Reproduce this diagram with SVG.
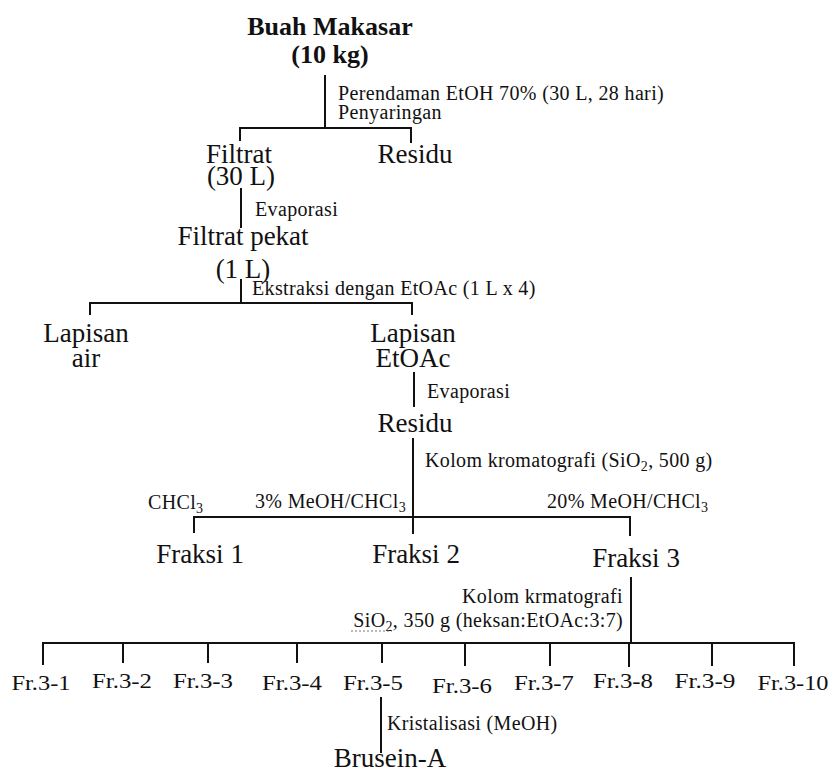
<svg xmlns="http://www.w3.org/2000/svg" width="831" height="773" viewBox="0 0 831 773">
<style>
text{font-family:"Liberation Serif","Times New Roman",serif;fill:#111;}
.title{font-size:26px;font-weight:bold;text-anchor:middle;}
.node{font-size:27px;text-anchor:middle;}
.lbl{font-size:20px;letter-spacing:0.35px;}
.fr{font-size:21px;text-anchor:middle;}
.sub{font-size:14px;}
#connectors line{stroke:#111;stroke-width:2;}
</style>
<rect width="831" height="773" fill="#fff"/>
<g id="connectors">
  <line x1="325" y1="75" x2="325" y2="129"/>
  <line x1="239" y1="128" x2="412" y2="128"/>
  <line x1="240" y1="127" x2="240" y2="141"/>
  <line x1="411" y1="127" x2="411" y2="143"/>
  <line x1="241" y1="188" x2="241" y2="228"/>
  <line x1="241" y1="279" x2="241" y2="304"/>
  <line x1="89" y1="303" x2="413" y2="303"/>
  <line x1="90" y1="302" x2="90" y2="315"/>
  <line x1="412" y1="302" x2="412" y2="315"/>
  <line x1="414" y1="372" x2="414" y2="407"/>
  <line x1="413" y1="438" x2="413" y2="534"/>
  <line x1="193" y1="517" x2="631" y2="517"/>
  <line x1="194" y1="516" x2="194" y2="533"/>
  <line x1="630" y1="516" x2="630" y2="536"/>
  <line x1="631" y1="577" x2="631" y2="644"/>
  <line x1="42" y1="643" x2="795" y2="643"/>
  <line x1="43" y1="642" x2="43" y2="665"/>
  <line x1="123" y1="642" x2="123" y2="663"/>
  <line x1="208" y1="642" x2="208" y2="663"/>
  <line x1="297" y1="642" x2="297" y2="663"/>
  <line x1="382" y1="642" x2="382" y2="663"/>
  <line x1="465" y1="642" x2="465" y2="666"/>
  <line x1="550" y1="642" x2="550" y2="666"/>
  <line x1="629" y1="642" x2="629" y2="667"/>
  <line x1="712" y1="642" x2="712" y2="666"/>
  <line x1="794" y1="642" x2="794" y2="666"/>
  <line x1="381" y1="697" x2="381" y2="753"/>
</g>
<g id="labels">
  <text class="lbl" x="338" y="100">Perendaman EtOH 70% (30 L, 28 hari)</text>
  <text class="lbl" x="338" y="119">Penyaringan</text>
  <text class="lbl" x="255" y="216">Evaporasi</text>
  <text class="lbl" x="252" y="295">Ekstraksi dengan EtOAc (1 L x 4)</text>
  <text class="lbl" x="427" y="398">Evaporasi</text>
  <text class="lbl" x="425" y="467">Kolom kromatografi (SiO<tspan class="sub" dy="4">2</tspan><tspan dy="-4">, 500 g)</tspan></text>
  <text class="lbl" x="148" y="509">CHCl<tspan class="sub" dy="4">3</tspan></text>
  <text class="lbl" x="255" y="508">3% MeOH/CHCl<tspan class="sub" dy="4">3</tspan></text>
  <text class="lbl" x="547" y="508">20% MeOH/CHCl<tspan class="sub" dy="4">3</tspan></text>
  <text class="lbl" x="623" y="603" text-anchor="end">Kolom krmatografi</text>
  <text class="lbl" x="623" y="627" text-anchor="end">SiO<tspan class="sub" dy="4">2</tspan><tspan dy="-4">, 350 g (heksan:EtOAc:3:7)</tspan></text>
  <line x1="351" y1="631" x2="392" y2="631" stroke="#777" stroke-width="1" stroke-dasharray="2,2"/>
  <text class="lbl" x="387" y="730">Kristalisasi (MeOH)</text>
</g>
<g id="n-buah"><text class="title" x="330" y="35">Buah Makasar</text><text class="title" x="330" y="63">(10 kg)</text></g>
<g id="n-filtrat"><text class="node" x="239" y="163">Filtrat</text><text class="node" x="241" y="185">(30 L)</text></g>
<g id="n-residu1"><text class="node" x="415" y="163">Residu</text></g>
<g id="n-filtratpekat"><text class="node" x="243" y="245">Filtrat pekat</text><text class="node" x="243" y="278">(1 L)</text></g>
<g id="n-lapisanair"><text class="node" x="86" y="342">Lapisan</text><text class="node" x="86" y="367">air</text></g>
<g id="n-lapisanetoac"><text class="node" x="413" y="342">Lapisan</text><text class="node" x="413" y="367">EtOAc</text></g>
<g id="n-residu2"><text class="node" x="415" y="432">Residu</text></g>
<g id="n-fraksi1"><text class="node" x="200" y="563">Fraksi 1</text></g>
<g id="n-fraksi2"><text class="node" x="416" y="563">Fraksi 2</text></g>
<g id="n-fraksi3"><text class="node" x="636" y="567">Fraksi 3</text></g>
<g id="n-fr1"><text class="fr" x="41" y="690" textLength="59" lengthAdjust="spacingAndGlyphs">Fr.3-1</text></g>
<g id="n-fr2"><text class="fr" x="122" y="688" textLength="60" lengthAdjust="spacingAndGlyphs">Fr.3-2</text></g>
<g id="n-fr3"><text class="fr" x="203" y="688" textLength="60" lengthAdjust="spacingAndGlyphs">Fr.3-3</text></g>
<g id="n-fr4"><text class="fr" x="292" y="690" textLength="60" lengthAdjust="spacingAndGlyphs">Fr.3-4</text></g>
<g id="n-fr5"><text class="fr" x="373" y="690" textLength="60" lengthAdjust="spacingAndGlyphs">Fr.3-5</text></g>
<g id="n-fr6"><text class="fr" x="462" y="693" textLength="60" lengthAdjust="spacingAndGlyphs">Fr.3-6</text></g>
<g id="n-fr7"><text class="fr" x="544" y="690" textLength="60" lengthAdjust="spacingAndGlyphs">Fr.3-7</text></g>
<g id="n-fr8"><text class="fr" x="623" y="688" textLength="60" lengthAdjust="spacingAndGlyphs">Fr.3-8</text></g>
<g id="n-fr9"><text class="fr" x="705" y="688" textLength="61" lengthAdjust="spacingAndGlyphs">Fr.3-9</text></g>
<g id="n-fr10"><text class="fr" x="793" y="690" textLength="71" lengthAdjust="spacingAndGlyphs">Fr.3-10</text></g>
<g id="n-brusein"><text class="node" x="390" y="767">Brusein-A</text></g>
</svg>
